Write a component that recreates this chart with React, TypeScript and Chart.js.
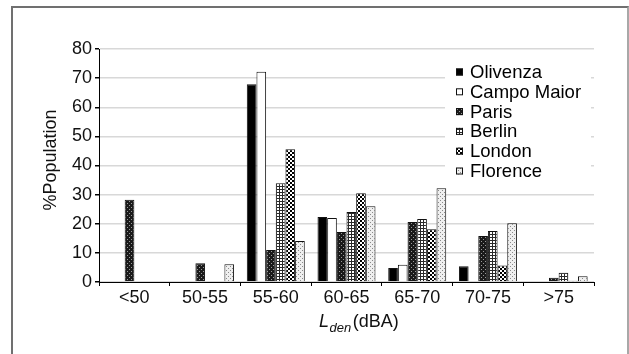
import React, { useEffect, useRef } from 'react';
import { Chart, registerables } from 'chart.js';

Chart.register(...registerables);

const categories = ['<50', '50-55', '55-60', '60-65', '65-70', '70-75', '>75'];
const seriesNames = ['Olivenza', 'Campo Maior', 'Paris', 'Berlin', 'London', 'Florence'];
const olivenza = [null, null, 67.9, 22.3, 4.8, 5.4, null];
const campoMaior = [null, null, 72.2, 22.0, 5.9, null, null];
const paris = [28.2, 6.4, 11.0, 17.2, 20.6, 15.8, 1.5];
const berlin = [null, null, 33.9, 24.0, 21.6, 17.5, 3.2];
const london = [null, null, 45.6, 30.5, 18.1, 5.7, 0.4];
const florence = [null, 6.1, 14.1, 26.0, 32.2, 20.2, 2.0];
const yMin = 0;
const yMax = 80;
const yStep = 10;

const FONT = "'Liberation Sans', Arial, sans-serif";

function makePattern(size: number, draw: (c: CanvasRenderingContext2D) => void) {
  const cv = document.createElement('canvas');
  cv.width = size;
  cv.height = size;
  const c = cv.getContext('2d')!;
  draw(c);
  return c.createPattern(cv, 'repeat')!;
}

function buildFills() {
  const paris = makePattern(4, (c) => {
    c.fillStyle = '#1a1a1a';
    c.fillRect(0, 0, 4, 4);
    c.fillStyle = '#9a9a9a';
    c.fillRect(1, 1, 1, 1);
    c.fillRect(3, 3, 1, 1);
  });
  const berlin = makePattern(3, (c) => {
    c.fillStyle = '#ffffff';
    c.fillRect(0, 0, 3, 3);
    c.fillStyle = '#2a2a2a';
    c.fillRect(0, 0, 3, 1);
    c.fillRect(0, 0, 1, 3);
  });
  const london = makePattern(4, (c) => {
    c.fillStyle = '#ffffff';
    c.fillRect(0, 0, 4, 4);
    c.fillStyle = '#000000';
    c.fillRect(0, 0, 2, 2);
    c.fillRect(2, 2, 2, 2);
  });
  const florence = makePattern(4, (c) => {
    c.fillStyle = '#efefef';
    c.fillRect(0, 0, 4, 4);
    c.fillStyle = '#8a8a8a';
    c.fillRect(0, 0, 1, 1);
    c.fillRect(2, 2, 1, 1);
  });
  return ['#000000', '#ffffff', paris, berlin, london, florence];
}

export default function App() {
  const ref = useRef<HTMLCanvasElement | null>(null);

  useEffect(() => {
    const canvas = ref.current!;
    const fills = buildFills();
    const values = [olivenza, campoMaior, paris, berlin, london, florence];

    const overlay = {
      id: 'overlay',
      afterDraw(chart: any) {
        const ctx = chart.ctx as CanvasRenderingContext2D;
        ctx.save();
        // legend
        ctx.fillStyle = '#ffffff';
        ctx.fillRect(445, 60, 146, 122);
        const startY = 72;
        const gap = 19.8;
        ctx.font = `18.5px ${FONT}`;
        ctx.textBaseline = 'middle';
        ctx.textAlign = 'left';
        seriesNames.forEach((name, i) => {
          const cy = startY + i * gap;
          ctx.fillStyle = fills[i] as any;
          ctx.fillRect(456, cy - 3.5, 7, 7);
          ctx.strokeStyle = '#111';
          ctx.lineWidth = 1;
          ctx.strokeRect(456.5, cy - 3, 6, 6);
          ctx.fillStyle = '#000';
          ctx.fillText(name, 470, cy + 1);
        });
        // y title
        ctx.save();
        ctx.translate(51.5, 160);
        ctx.rotate(-Math.PI / 2);
        ctx.textAlign = 'center';
        ctx.textBaseline = 'middle';
        ctx.font = `18px ${FONT}`;
        ctx.fillStyle = '#111';
        ctx.fillText('%Population', 0, 0);
        ctx.restore();
        // x title
        ctx.textBaseline = 'alphabetic';
        ctx.textAlign = 'left';
        ctx.fillStyle = '#111';
        let x = 319;
        ctx.font = `italic 18px ${FONT}`;
        ctx.fillText('L', x, 327);
        x += ctx.measureText('L').width + 0.5;
        ctx.font = `italic 13px ${FONT}`;
        ctx.fillText('den', x, 332);
        x += ctx.measureText('den').width + 1.5;
        ctx.font = `18px ${FONT}`;
        ctx.fillText('(dBA)', x, 327);
        ctx.restore();
      },
    };

    const chart = new Chart(canvas, {
      type: 'bar',
      data: {
        labels: categories,
        datasets: seriesNames.map((name, i) => ({
          label: name,
          data: values[i] as any,
          backgroundColor: fills[i] as any,
          borderColor: '#111',
          borderWidth: 1,
          categoryPercentage: 0.82,
          barPercentage: 1.0,
        })),
      },
      options: {
        responsive: false,
        animation: false,
        layout: { padding: { left: 0, top: 49, right: 35, bottom: 0 } },
        plugins: {
          legend: { display: false },
          tooltip: { enabled: false },
          title: { display: false },
        },
        scales: {
          x: {
            grid: {
              offset: true,
              drawOnChartArea: false,
              drawTicks: true,
              tickLength: 4,
              tickColor: '#000',
            },
            border: { display: true, color: '#000', width: 1 },
            ticks: {
              color: '#111',
              font: { family: FONT, size: 18 },
              padding: 1,
              maxRotation: 0,
              autoSkip: false,
            },
            afterFit: (s: any) => {
              s.height = 72;
            },
          },
          y: {
            min: yMin,
            max: yMax,
            grid: {
              color: '#d8d8d8',
              lineWidth: 1.5,
              drawTicks: true,
              tickLength: 4,
              tickColor: '#000',
            },
            border: { display: true, color: '#000', width: 1 },
            ticks: {
              stepSize: yStep,
              color: '#111',
              font: { family: FONT, size: 18 },
              padding: 3,
            },
            afterFit: (s: any) => {
              s.width = 99;
            },
          },
        },
      },
      plugins: [overlay],
    });
    return () => chart.destroy();
  }, []);

  return (
    <div
      style={{
        position: 'fixed',
        left: 0,
        top: 0,
        width: 629,
        height: 354,
        background: '#fff',
        overflow: 'hidden',
      }}
    >
      <canvas
        ref={ref}
        width={629}
        height={354}
        style={{ position: 'absolute', left: 0, top: 0, width: 629, height: 354 }}
      />
      <div
        style={{
          position: 'absolute',
          left: 11,
          top: 6,
          width: 614,
          height: 400,
          borderTop: '2px solid #707070',
          borderLeft: '2px solid #707070',
          borderRight: '2px solid #a8a8a8',
          pointerEvents: 'none',
        }}
      />
    </div>
  );
}
